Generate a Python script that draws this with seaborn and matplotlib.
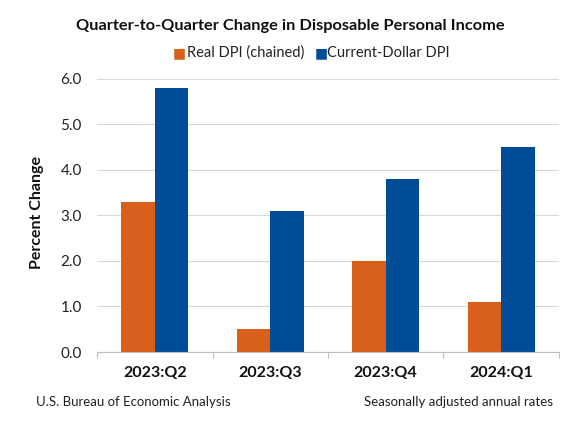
import seaborn as sns
import matplotlib.pyplot as plt
import pandas as pd

quarters = ['2023:Q2', '2023:Q3', '2023:Q4', '2024:Q1']
real_dpi = [3.3, 0.5, 2.0, 1.1]
current_dpi = [5.8, 3.1, 3.8, 4.5]
series = ['Real DPI (chained)', 'Current-Dollar DPI']

df = pd.concat([
    pd.DataFrame({'quarter': quarters, 'value': real_dpi, 'type': series[0]}),
    pd.DataFrame({'quarter': quarters, 'value': current_dpi, 'type': series[1]}),
])

sns.set_style('white')
plt.rcParams['font.family'] = ['Lato', 'DejaVu Sans']

fig = plt.figure(figsize=(5.81, 4.26), dpi=100)
ax = fig.add_axes([0.167, 0.1737, 0.795, 0.641])
sns.barplot(data=df, x='quarter', y='value', hue='type', ax=ax,
            palette=['#D9601A', '#004C97'], width=0.58, saturation=1,
            edgecolor='none', legend=False)

ax.set_ylim(0, 6.0)
ax.set_xlim(-0.5, 3.5)
ax.set_yticks([0, 1, 2, 3, 4, 5, 6])
ax.set_yticklabels([f'{v:.1f}' for v in range(7)], fontsize=11, color='#222222')
ax.yaxis.grid(True, color='#d9d9d9', linewidth=0.8)
ax.set_axisbelow(True)
ax.tick_params(axis='y', length=0, pad=11)
ax.set_xticks([0, 1, 2, 3])
ax.set_xticklabels(quarters, fontsize=11.5, fontweight='bold', color='#111111')
ax.set_xticks([-0.5, 0.5, 1.5, 2.5, 3.5], minor=True)
ax.tick_params(axis='x', which='major', length=0, pad=10)
ax.tick_params(axis='x', which='minor', length=4, color='#bfbfbf', width=0.8, bottom=True)
for s in ['top', 'right', 'left']:
    ax.spines[s].set_visible(False)
ax.spines['bottom'].set_color('#bfbfbf')
ax.set_xlabel('')
ax.set_ylabel('')
fig.text(37 / 581, 0.502, 'Percent Change', rotation=90, ha='center', va='center',
         fontsize=11.5, fontweight='bold', color='#111111')

fig.text(0.5, 0.939, 'Quarter-to-Quarter Change in Disposable Personal Income',
         ha='center', va='center', fontsize=11.8, fontweight='bold', color='#111111')

# legend
fig.text(0.298, 0.876, '■', color='#D9601A', ha='left', va='center', fontsize=10)
fig.text(0.322, 0.876, series[0], ha='left', va='center', fontsize=10.5, color='#222222')
fig.text(0.541, 0.876, '■', color='#004C97', ha='left', va='center', fontsize=10)
fig.text(0.563, 0.876, series[1], ha='left', va='center', fontsize=10.5, color='#222222')

fig.text(0.062, 0.056, 'U.S. Bureau of Economic Analysis', ha='left', va='center',
         fontsize=9.5, color='#222222')
fig.text(0.952, 0.056, 'Seasonally adjusted annual rates', ha='right', va='center',
         fontsize=9.5, color='#222222')

plt.savefig('out.png', dpi=100)
